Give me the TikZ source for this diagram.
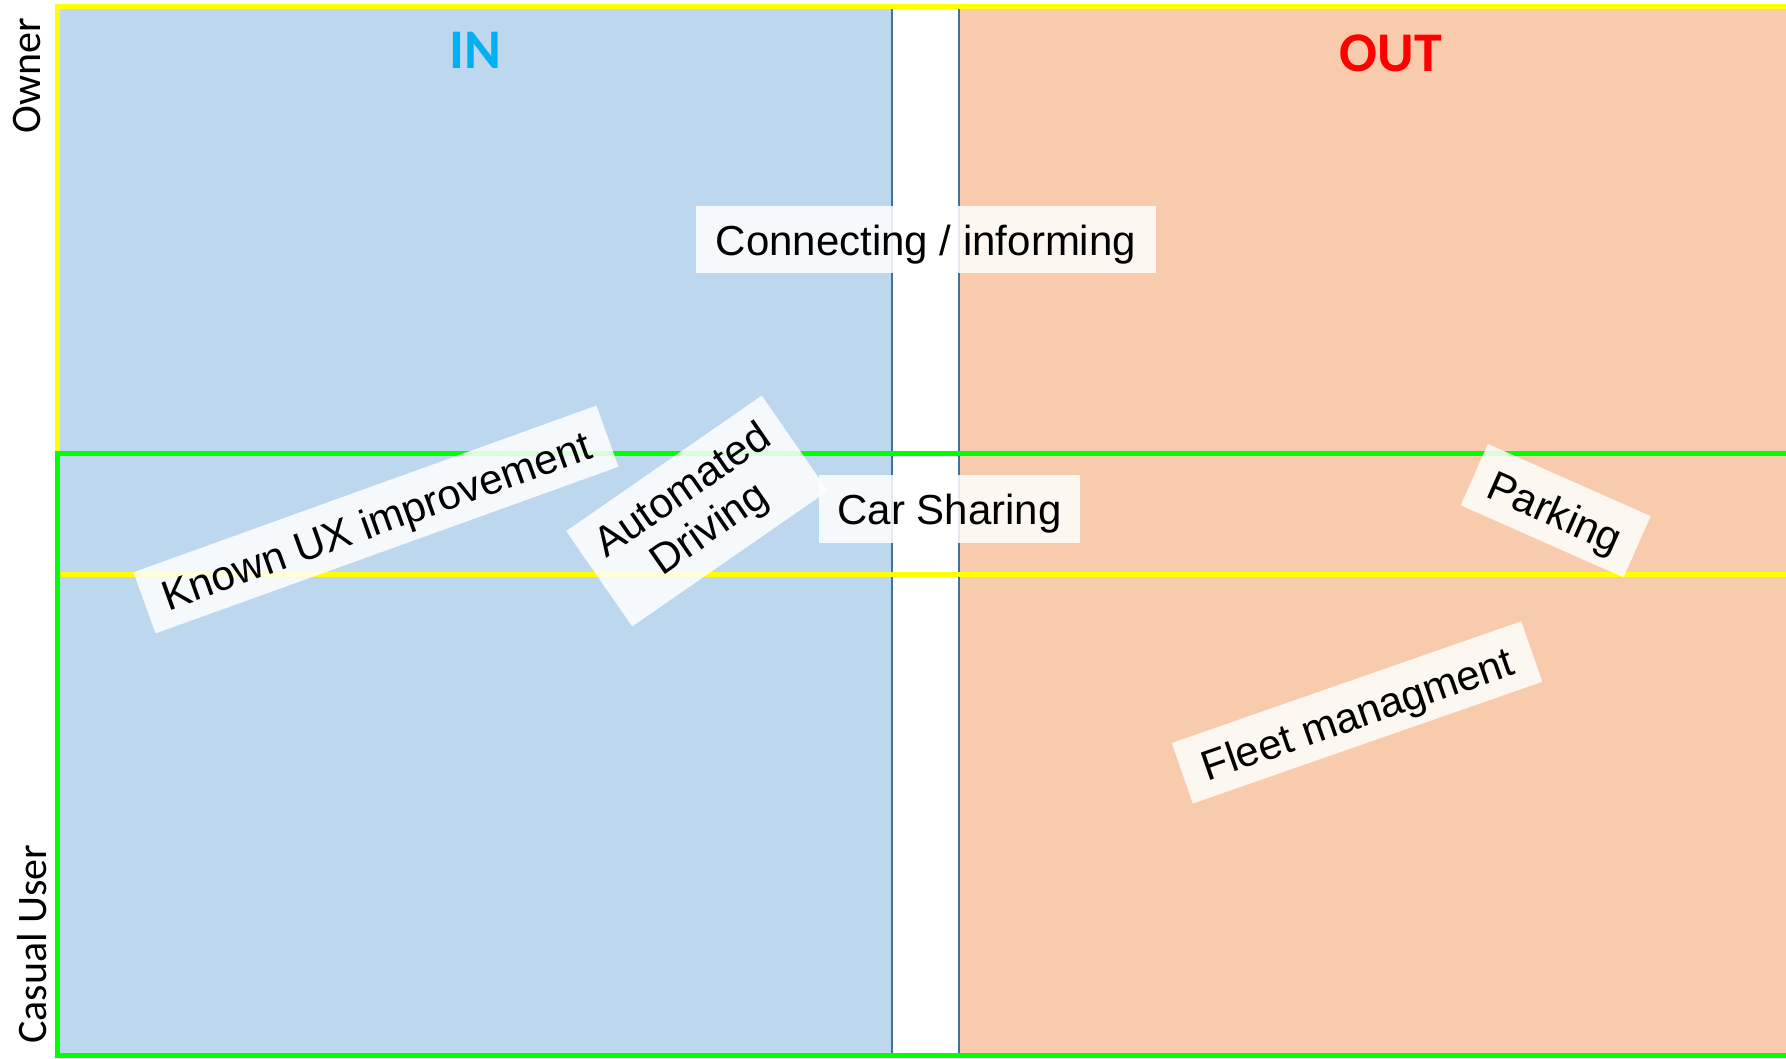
\documentclass[tikz,border=0pt]{standalone}
\usepackage{fontspec}
\newfontfamily\arialf{Liberation Sans}
\newfontfamily\calf{Carlito}
\definecolor{inblue}{HTML}{BDD7EE}
\definecolor{outorange}{HTML}{F8CBAD}
\definecolor{edgeblue}{HTML}{41719C}
\definecolor{incyan}{HTML}{00B0F0}
\definecolor{ylw}{HTML}{FFFF00}
\definecolor{grn}{HTML}{00FF00}
\tikzset{
  lblbox/.style={fill=white, fill opacity=0.85, text opacity=1, inner sep=0pt,
    font=\arialf\fontsize{42}{48}\selectfont, text height=37pt, text depth=5pt, anchor=center},
  lblbox2/.style={fill=white, fill opacity=0.85, text opacity=1, inner sep=0pt,
    font=\arialf\fontsize{42}{47}\selectfont, align=center, anchor=center},
  head/.style={font=\calf\bfseries\fontsize{56}{60}\selectfont, inner sep=0pt, anchor=center},
  side/.style={font=\calf\fontsize{42}{48}\selectfont, inner sep=0pt, anchor=center, rotate=90},
  frameline/.style={line width=5pt}
}
\begin{document}
\begin{tikzpicture}[x=1pt,y=-1pt]
\useasboundingbox (0,0) rectangle (1786,1058);
\clip (0,0) rectangle (1786,1058);
% quadrants
\fill[white] (0,0) rectangle (1786,1058);
\draw[fill=inblue, draw=edgeblue, line width=1.5pt] (57,6.8) rectangle (891.8,1056);
\draw[fill=outorange, draw=edgeblue, line width=1.5pt] (959,6.8) rectangle (1800,1056);
% frames
\draw[frameline, draw=ylw] (57,6.8) rectangle (1800,574);
\draw[frameline, draw=grn] (57,453.3) rectangle (1800,1055.5);
% headings
\node[head, text=incyan] (in) at (475.5,50) {IN};
\node[head, text=red] (out) at (1391,53) {OUT};
\node[side] (owner) at (27.5,75.5) {Owner};
\node[side] (casual) at (32,944) {Casual User};
% labels
\node[lblbox, minimum width=460pt, minimum height=67pt] (conn) at (926,239.5) {Connecting / informing};
\node[lblbox, minimum width=261pt, minimum height=68pt] (car) at (949.5,508.5) {Car Sharing};
\node[lblbox, minimum width=492pt, minimum height=65pt, rotate=19.8] (known) at (376,519.5) {Known UX improvement};
\node[lblbox2, minimum width=238pt, minimum height=116pt, rotate=34.7] (auto) at (697,511) {Automated\\Driving};
\node[lblbox, minimum width=178pt, minimum height=67pt, rotate=-23.9] (park) at (1555.7,510.7) {Parking};
\node[lblbox, minimum width=370pt, minimum height=64pt, rotate=19.2] (fleet) at (1357,712.4) {Fleet managment};
\end{tikzpicture}
\end{document}
